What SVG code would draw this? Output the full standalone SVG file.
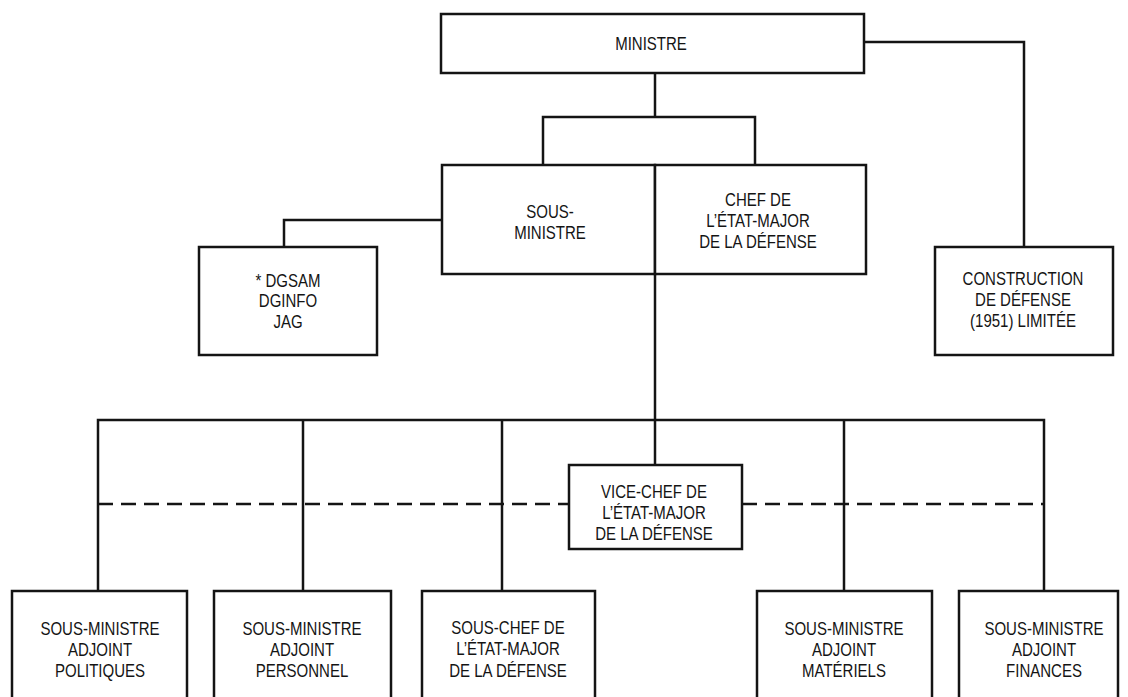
<svg xmlns="http://www.w3.org/2000/svg" width="1128" height="697" viewBox="0 0 1128 697">
<style>
.box{fill:#fff;stroke:#141414;stroke-width:2.5}
.ln{fill:none;stroke:#141414;stroke-width:2.5}
.dash{fill:none;stroke:#141414;stroke-width:2.5;stroke-dasharray:15 8}
text{font-family:"Liberation Sans",Arial,sans-serif;font-size:19px;fill:#141414;text-anchor:middle}
</style>
<rect width="1128" height="697" fill="#fff"/>
<g id="connectors">
<path class="ln" d="M655,73 V117"/>
<path class="ln" d="M543,165 V117 H755 V165"/>
<path class="ln" d="M864,42 H1024 V247"/>
<path class="ln" d="M442,220 H284 V247"/>
<path class="ln" d="M655,274 V465"/>
<path class="ln" d="M98,591 V420 H1044 V591"/>
<path class="ln" d="M303,420 V591 M502,420 V591 M844,420 V591"/>
<path class="dash" d="M98,504 H569 M742,504 H1044"/>
</g>
<g id="ministre">
<rect class="box" x="441" y="14" width="423" height="59"/>
<text transform="translate(651,0) scale(0.79,1)"><tspan x="0" y="50">MINISTRE</tspan></text>
</g>
<g id="sous-ministre">
<rect class="box" x="442" y="165" width="213" height="109"/>
<text transform="translate(550,0) scale(0.79,1)"><tspan x="0" y="218">SOUS-</tspan><tspan x="0" y="239">MINISTRE</tspan></text>
</g>
<g id="chef-etat-major">
<rect class="box" x="655" y="165" width="211" height="109"/>
<text transform="translate(758,0) scale(0.79,1)"><tspan x="0" y="206">CHEF DE</tspan><tspan x="0" y="227">L’ÉTAT-MAJOR</tspan><tspan x="0" y="248">DE LA DÉFENSE</tspan></text>
</g>
<g id="dgsam">
<rect class="box" x="199" y="247" width="178" height="108"/>
<text transform="translate(288,0) scale(0.79,1)"><tspan x="0" y="287">* DGSAM</tspan><tspan x="0" y="307">DGINFO</tspan><tspan x="0" y="328">JAG</tspan></text>
</g>
<g id="construction">
<rect class="box" x="935" y="247" width="178" height="108"/>
<text transform="translate(1023,0) scale(0.79,1)"><tspan x="0" y="285">CONSTRUCTION</tspan><tspan x="0" y="306">DE DÉFENSE</tspan><tspan x="0" y="327">(1951) LIMITÉE</tspan></text>
</g>
<g id="vice-chef">
<rect class="box" x="569" y="465" width="173" height="84"/>
<text transform="translate(654,0) scale(0.79,1)"><tspan x="0" y="498">VICE-CHEF DE</tspan><tspan x="0" y="519">L’ÉTAT-MAJOR</tspan><tspan x="0" y="540">DE LA DÉFENSE</tspan></text>
</g>
<g id="sma-politiques">
<rect class="box" x="12" y="591" width="175" height="120"/>
<text transform="translate(100,0) scale(0.79,1)"><tspan x="0" y="635">SOUS-MINISTRE</tspan><tspan x="0" y="656">ADJOINT</tspan><tspan x="0" y="677">POLITIQUES</tspan></text>
</g>
<g id="sma-personnel">
<rect class="box" x="214" y="591" width="177" height="120"/>
<text transform="translate(302,0) scale(0.79,1)"><tspan x="0" y="635">SOUS-MINISTRE</tspan><tspan x="0" y="656">ADJOINT</tspan><tspan x="0" y="677">PERSONNEL</tspan></text>
</g>
<g id="sous-chef">
<rect class="box" x="422" y="591" width="173" height="120"/>
<text transform="translate(508,0) scale(0.79,1)"><tspan x="0" y="634">SOUS-CHEF DE</tspan><tspan x="0" y="655">L’ÉTAT-MAJOR</tspan><tspan x="0" y="677">DE LA DÉFENSE</tspan></text>
</g>
<g id="sma-materiels">
<rect class="box" x="757" y="591" width="175" height="120"/>
<text transform="translate(844,0) scale(0.79,1)"><tspan x="0" y="635">SOUS-MINISTRE</tspan><tspan x="0" y="656">ADJOINT</tspan><tspan x="0" y="677">MATÉRIELS</tspan></text>
</g>
<g id="sma-finances">
<rect class="box" x="959" y="591" width="159" height="120"/>
<text transform="translate(1044,0) scale(0.79,1)"><tspan x="0" y="635">SOUS-MINISTRE</tspan><tspan x="0" y="656">ADJOINT</tspan><tspan x="0" y="677">FINANCES</tspan></text>
</g>
</svg>
